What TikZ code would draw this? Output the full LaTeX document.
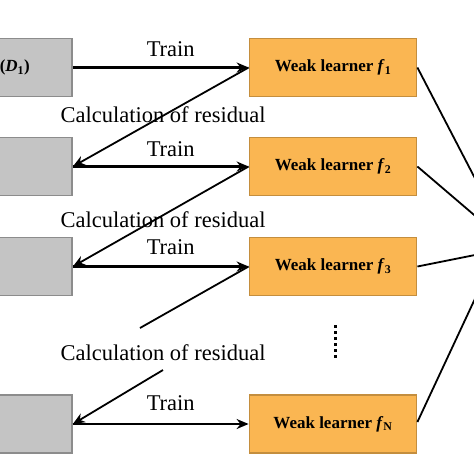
\documentclass[tikz,border=0pt]{standalone}
\usepackage{fontspec}
\setmainfont{Liberation Serif}
\usetikzlibrary{arrows.meta}
\definecolor{grayfill}{RGB}{196,196,196}
\definecolor{grayedge}{RGB}{140,140,140}
\definecolor{orfill}{RGB}{250,182,82}
\definecolor{oredge}{RGB}{196,142,62}
\begin{document}
\begin{tikzpicture}[x=1pt,y=-1pt,
 databox/.style={draw=grayedge,fill=grayfill,line width=1.8pt,minimum width=82pt,minimum height=58pt,inner sep=0pt},
 learner/.style={draw=oredge,fill=orfill,line width=1.8pt,minimum width=167pt,minimum height=58pt,inner sep=0pt,font=\fontsize{17}{20}\selectfont\bfseries},
 trainarrow/.style={line width=2.1pt,-{Stealth[length=12pt,width=10pt]}},
 resarrow/.style={line width=1.8pt,-{Stealth[length=12pt,width=10pt]}},
 resline/.style={line width=1.8pt},
 lbl/.style={font=\fontsize{22.5}{26}\selectfont,inner sep=0pt},
 combine/.style={line width=1.8pt}]
\useasboundingbox (0,0) rectangle (474,474);
\clip (0,0) rectangle (474,474);
% data boxes
\node[databox] (d1) at (31,67.5) {};
\node[databox] (d2) at (31,166.5) {};
\node[databox] (d3) at (31,266.5) {};
\node[databox] (d4) at (31,424) {};
\node[anchor=east,inner sep=0pt,font=\fontsize{17}{20}\selectfont\bfseries] (d1lbl) at (30,67.5) {(\textit{D}\textsubscript{1})};
% learners
\node[learner] (f1) at (333,67.5) {Weak learner \textit{f}\textsubscript{1}};
\node[learner] (f2) at (333,166.5) {Weak learner \textit{f}\textsubscript{2}};
\node[learner] (f3) at (333,266.5) {Weak learner \textit{f}\textsubscript{3}};
\node[learner] (fN) at (333,424) {Weak learner \textit{f}\textsubscript{N}};
% train arrows
\draw[trainarrow] (d1.east) -- node[lbl,above=10pt,xshift=10pt] (t1) {Train} (f1.west);
\draw[trainarrow] (d2.east) -- node[lbl,above=9pt,xshift=10pt] (t2) {Train} (f2.west);
\draw[trainarrow] (d3.east) -- node[lbl,above=11pt,xshift=10pt] (t3) {Train} (f3.west);
\draw[trainarrow] (d4.east) -- node[lbl,above=12pt,xshift=10pt] (t4) {Train} (fN.west);
% residual labels
\node[lbl,anchor=base] (r1) at (163,122) {Calculation of residual};
\node[lbl,anchor=base] (r2) at (163,227) {Calculation of residual};
\node[lbl,anchor=base] (r3) at (163,360) {Calculation of residual};
% residual arrows
\draw[resarrow] (f1.west) -- (d2.east);
\draw[resarrow] (f2.west) -- (d3.east);
\coordinate (r3a) at (140,328);
\coordinate (r3b) at (163,370);
\draw[resline] (f3.west) -- (r3a);
\draw[resarrow] (r3b) -- (d4.east);
% dots
\coordinate (v1) at (335,325);
\coordinate (v2) at (335,359);
\draw[line width=3pt,dash pattern=on 3pt off 3pt] (v1) -- (v2);
% combination lines
\coordinate (o1) at (480,188);
\coordinate (o2) at (480,220);
\coordinate (o3) at (480,254);
\coordinate (o4) at (480,288);
\draw[combine] (f1.east) -- (o1);
\draw[combine] (f2.east) -- (o2);
\draw[combine] (f3.east) -- (o3);
\draw[combine] ([yshift=2pt]fN.east) -- (o4);
\end{tikzpicture}
\end{document}
